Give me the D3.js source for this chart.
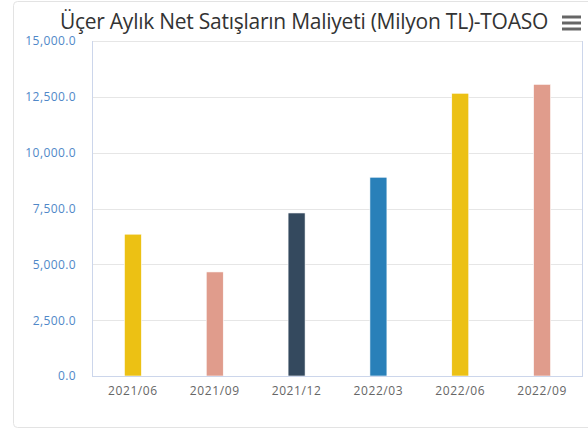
<!DOCTYPE html>
<html>
<head>
<meta charset="utf-8">
<script src="https://cdn.jsdelivr.net/npm/d3@7"></script>
<style>
  body { margin: 0; background: #fff; font-family: "Open Sans", sans-serif; }
</style>
</head>
<body>
<script>
// data
var periods = ["2021/06", "2021/09", "2021/12", "2022/03", "2022/06", "2022/09"];
var values = [6350, 4660, 7300, 8900, 12660, 13060];
var barColors = ["#ecc114", "#e09c8c", "#34495e", "#2980b9", "#ecc114", "#e09c8c"];
var yTicks = [0, 2500, 5000, 7500, 10000, 12500, 15000];
var titleText = "Üçer Aylık Net Satışların Maliyeti (Milyon TL)-TOASO";

var outWidth = 588, outHeight = 430;
var margin = {top: 41, right: 5, bottom: 54, left: 92};
var width = outWidth - margin.left - margin.right,
    height = outHeight - margin.top - margin.bottom;

var svg = d3.select("body").append("svg")
    .attr("width", outWidth)
    .attr("height", outHeight);

// card behind the chart
svg.append("rect")
    .attr("x", 13.5).attr("y", 1.5)
    .attr("width", 590).attr("height", 426)
    .attr("rx", 4)
    .attr("fill", "#fff")
    .attr("stroke", "#e3e3e3");

var xScale = d3.scaleBand().domain(periods).range([0, width]);
var yScale = d3.scaleLinear().domain([0, 15000]).range([height, 0]);

var g = svg.append("g")
    .attr("transform", "translate(" + margin.left + "," + margin.top + ")");

// grid
g.selectAll(".grid").data(yTicks).enter().append("line")
    .attr("x1", 0).attr("x2", width)
    .attr("y1", function(d) { return Math.round(yScale(d)) + 0.5; })
    .attr("y2", function(d) { return Math.round(yScale(d)) + 0.5; })
    .attr("stroke", "#e6e6e6");

// plot border (left / right light blue)
g.append("line").attr("x1", 0.5).attr("x2", 0.5).attr("y1", 0).attr("y2", height)
    .attr("stroke", "#ccd6eb");
g.append("line").attr("x1", width - 0.5).attr("x2", width - 0.5).attr("y1", 0).attr("y2", height)
    .attr("stroke", "#ccd6eb");

// bars
var bw = 17;
g.selectAll(".bar").data(values).enter().append("rect")
    .attr("x", function(d, i) { return xScale(periods[i]) + xScale.bandwidth() / 2 - bw / 2; })
    .attr("y", function(d) { return yScale(d); })
    .attr("width", bw)
    .attr("height", function(d) { return height - yScale(d); })
    .attr("fill", function(d, i) { return barColors[i]; })
    .attr("stroke", "#fff").attr("stroke-width", 0.6);

// y axis
var yAxis = d3.axisLeft(yScale).tickValues(yTicks).tickSize(0).tickPadding(16)
    .tickFormat(function(d) { return d3.format(",.1f")(d); });
var ya = g.append("g").call(yAxis);
ya.select(".domain").remove();
ya.selectAll("text")
    .attr("fill", "#5088c8")
    .style("font-size", "12px")
    .style("letter-spacing", "0.4px")
    .style("font-family", "Open Sans, sans-serif");

// x axis
var xAxis = d3.axisBottom(xScale).tickSize(0).tickPadding(10);
var xa = g.append("g").attr("transform", "translate(0," + height + ")").call(xAxis);
xa.select(".domain").attr("stroke", "#ccd6eb").attr("d", "M0,0.5H" + width);
xa.selectAll("text")
    .attr("fill", "#666")
    .style("font-size", "12px")
    .style("letter-spacing", "0.6px")
    .style("font-family", "Open Sans, sans-serif");

// title
svg.append("text")
    .attr("x", 304).attr("y", 29)
    .attr("text-anchor", "middle")
    .attr("fill", "#333")
    .style("font-size", "21px")
    .style("letter-spacing", "-0.25px")
    .style("font-family", "Open Sans, sans-serif")
    .text(titleText);

// menu icon
[17, 23, 29].forEach(function(y) {
    svg.append("line")
        .attr("x1", 562).attr("x2", 581)
        .attr("y1", y).attr("y2", y)
        .attr("stroke", "#666").attr("stroke-width", 3);
});
</script>
</body>
</html>
